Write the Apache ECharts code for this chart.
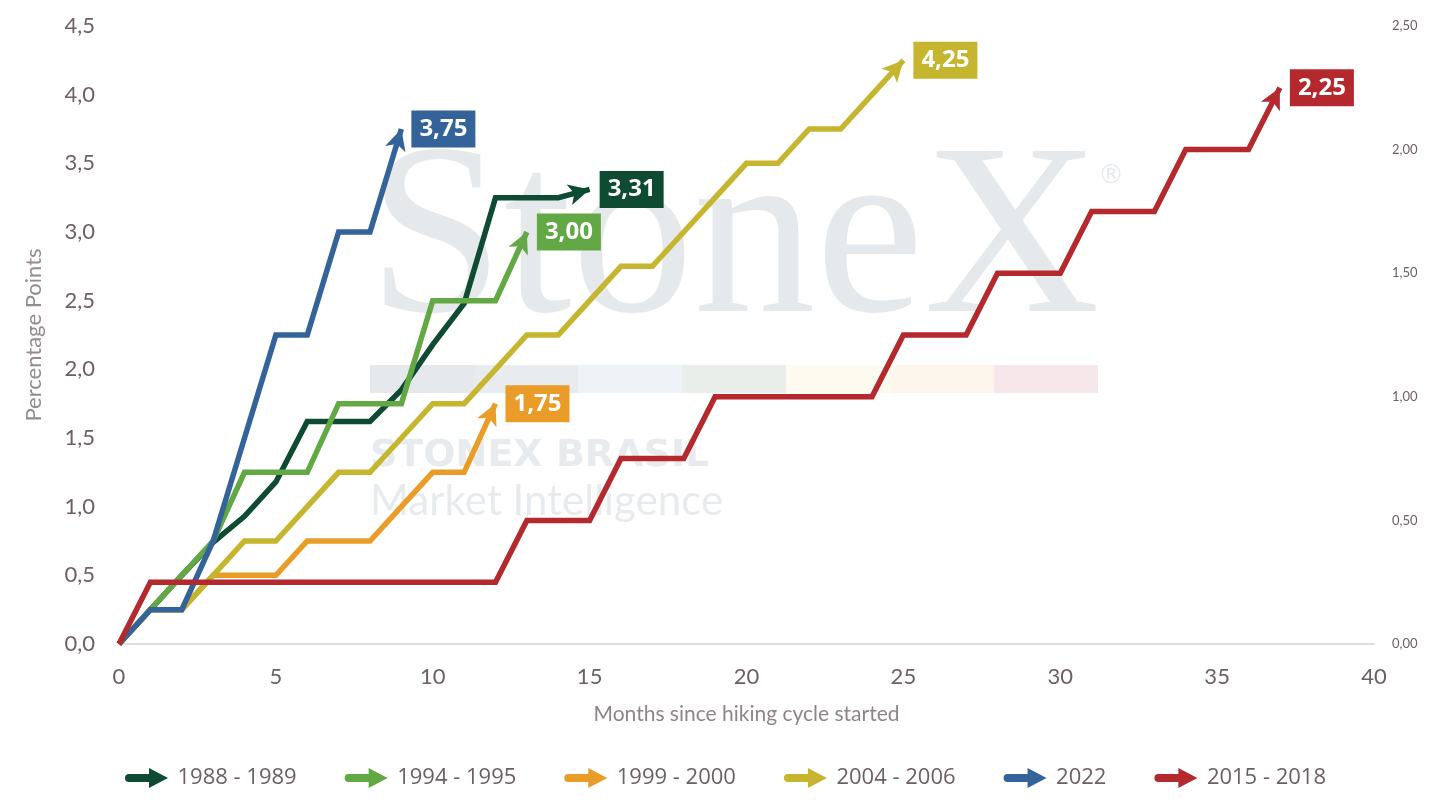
<!DOCTYPE html>
<html>
<head>
<meta charset="utf-8">
<title>Hiking cycles</title>
<script src="https://cdn.jsdelivr.net/npm/echarts@6/dist/echarts.min.js"></script>
<style>
	*{
		margin:0;
		padding:0;
	}
	#main{
		width:1438px;
		height:808px;
		background:#fff;
	}
</style>
</head>
<body>
<div id="main"></div>
<script>
// cumulative hikes (p.p.), one value per month since the cycle started
var names  = ['1988 - 1989', '1994 - 1995', '1999 - 2000', '2004 - 2006', '2022', '2015 - 2018'];
var colors = ['#0f4a33', '#62a845', '#e99d28', '#c5b52f', '#336399', '#b3292e'];

var c1988 = [0, 0.25, 0.5, 0.74, 0.93, 1.18, 1.62, 1.62, 1.62, 1.85, 2.18, 2.48, 3.25, 3.25, 3.25, 3.31];
var c1994 = [0, 0.25, 0.5, 0.75, 1.25, 1.25, 1.25, 1.75, 1.75, 1.75, 2.5, 2.5, 2.5, 3.0];
var c1999 = [0, 0.25, 0.25, 0.5, 0.5, 0.5, 0.75, 0.75, 0.75, 1.0, 1.25, 1.25, 1.75];
var c2004 = [0, 0.25, 0.25, 0.5, 0.75, 0.75, 1.0, 1.25, 1.25, 1.5, 1.75, 1.75, 2.0, 2.25, 2.25,
             2.5, 2.75, 2.75, 3.0, 3.25, 3.5, 3.5, 3.75, 3.75, 4.0, 4.25];
var c2022 = [0, 0.25, 0.25, 0.75, 1.5, 2.25, 2.25, 3.0, 3.0, 3.75];
// 2015 - 2018 is read on the right axis
var c2015 = [0, 0.25, 0.25, 0.25, 0.25, 0.25, 0.25, 0.25, 0.25, 0.25, 0.25, 0.25, 0.25,
             0.5, 0.5, 0.5, 0.75, 0.75, 0.75, 1.0, 1.0, 1.0, 1.0, 1.0, 1.0,
             1.25, 1.25, 1.25, 1.5, 1.5, 1.5, 1.75, 1.75, 1.75, 2.0, 2.0, 2.0, 2.25];

var cycles = [c1988, c1994, c1999, c2004, c2022, c2015];
var axisOf = [0, 0, 0, 0, 0, 1];

var txt = '#6d6063';
// echarts 'arrow': tip sits on the point, body is symbolSize[1] long, 4/3*symbolSize[0] wide
var arrowW = 16, arrowL = 21;

function comma(v, d){
	return v.toFixed(d).replace('.', ',');
}

var chart = echarts.init(document.getElementById('main'));

var series = cycles.map(function(vals, i){
	var data = vals.map(function(v, m){
		var item = {value: [m, v]};
		if (m < vals.length - 1) item.symbol = 'none';
		return item;
	});
	return {
		name: names[i],
		type: 'line',
		yAxisIndex: axisOf[i],
		data: data,
		color: colors[i],
		symbol: 'arrow',
		symbolSize: [arrowW, arrowL],
		showSymbol: true,
		showAllSymbol: true,
		lineStyle: {width: 5.5, color: colors[i], join: 'miter'},
		itemStyle: {color: colors[i]},
		emphasis: {disabled: true},
		z: 2 + i,
		endLabel: {
			show: true,
			formatter: function(p){ return comma(p.value[1], 2); },
			color: '#fff',
			backgroundColor: colors[i],
			fontFamily: 'Open Sans',
			fontWeight: 'bold',
			fontSize: 24,
			lineHeight: 27,
			padding: [5, 8, 5, 8],
			distance: 10
		}
	};
});

var barColors = ['#e6e9ec', '#e9ecef', '#eef3f7', '#e9eeeb', '#fdfbf0', '#fdf6ec', '#f6e8ea'];
var watermark = [
	{type: 'text', x: 368, y: 247, z: 0, silent: true,
	 style: {text: 'StoneX', font: '244px "Liberation Serif"', fill: '#e6e9ec', verticalAlign: 'middle'}},
	{type: 'text', x: 1098, y: 176, z: 0, silent: true,
	 style: {text: '\u00ae', font: '26px "DejaVu Sans"', fill: '#e6e9ec', verticalAlign: 'middle'}},
	{type: 'text', x: 370, y: 456, z: 0, silent: true,
	 style: {text: 'STONEX BRASIL', font: 'bold 38px "DejaVu Sans"', fill: '#e8ebee', verticalAlign: 'middle'}},
	{type: 'text', x: 370, y: 501, z: 0, silent: true,
	 style: {text: 'Market Intelligence', font: '42px Lato', fill: '#e8ebee', verticalAlign: 'middle'}}
];
barColors.forEach(function(c, k){
	watermark.push({type: 'rect', z: 0, silent: true,
		shape: {x: 370 + k * 104, y: 365, width: 104, height: 28},
		style: {fill: c}});
});

var option = {
	backgroundColor: '#fff',
	animation: false,
	textStyle: {fontFamily: 'Lato'},
	graphic: {elements: watermark},
	grid: {left: 119, right: 64, top: 26, bottom: 164},
	legend: {
		data: names,
		left: 120,
		top: 762,
		itemGap: 48,
		itemWidth: 44,
		itemHeight: 20,
		icon: 'path://M5,6 L25,6 L25,0 L44,10 L25,20 L25,14 L5,14 A4,4 0 0 1 5,6 Z',
		textStyle: {color: txt, fontSize: 22, fontFamily: 'Open Sans', padding: [0, 0, 0, 4]},
		selectedMode: false
	},
	xAxis: {
		type: 'value',
		min: 0,
		max: 40,
		interval: 5,
		name: 'Months since hiking cycle started',
		nameLocation: 'middle',
		nameGap: 60,
		nameTextStyle: {color: '#8f8588', fontSize: 21},
		axisLine: {lineStyle: {color: '#dedcdc', width: 2}},
		axisTick: {show: false},
		splitLine: {show: false},
		axisLabel: {color: txt, fontSize: 22, margin: 22}
	},
	yAxis: [
		{
			type: 'value',
			min: 0,
			max: 4.5,
			interval: 0.5,
			name: 'Percentage Points',
			nameLocation: 'middle',
			nameGap: 74,
			nameTextStyle: {color: '#958b8e', fontSize: 22},
			axisLine: {show: false},
			axisTick: {show: false},
			splitLine: {show: false},
			axisLabel: {color: txt, fontSize: 22, margin: 24, formatter: function(v){ return comma(v, 1); }}
		},
		{
			type: 'value',
			min: 0,
			max: 2.5,
			interval: 0.5,
			position: 'right',
			axisLine: {show: false},
			axisTick: {show: false},
			splitLine: {show: false},
			axisLabel: {color: txt, fontSize: 13, margin: 18, formatter: function(v){ return comma(v, 2); }}
		}
	],
	series: series
};

chart.setOption(option);

// point each arrow head along the last segment of its line
var upd = series.map(function(s, i){
	var d = s.data;
	var n = d.length;
	var a = chart.convertToPixel({seriesIndex: i}, d[n - 2].value);
	var b = chart.convertToPixel({seriesIndex: i}, d[n - 1].value);
	d[n - 1].symbolRotate = Math.atan2(a[0] - b[0], a[1] - b[1]) * 180 / Math.PI;
	return {data: d};
});
chart.setOption({series: upd});
</script>
</body>
</html>
